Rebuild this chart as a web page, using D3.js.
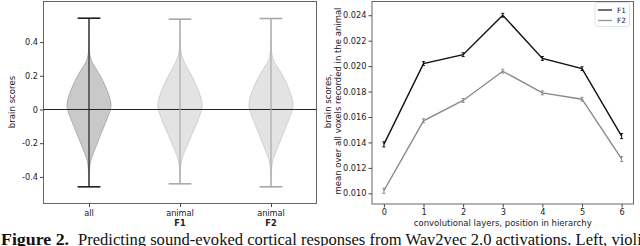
<!DOCTYPE html>
<html>
<head>
<meta charset="utf-8">
<script src="https://cdn.jsdelivr.net/npm/d3@7"></script>
<style>
  body { margin: 0; background: #fff; }
  svg { display: block; font-family: "DejaVu Sans", sans-serif; }
</style>
</head>
<body>
<div id="chart"></div>
<script>
// ---- data ----
var violinNames = ["all", "animal", "animal"];
var violinSub = ["", "F1", "F2"];
var violinMax = [0.542, 0.536, 0.540];
var violinMin = [-0.459, -0.441, -0.459];
// density profiles (value, relative width)
var allProfileY = [0.542, 0.36, 0.33, 0.29, 0.26, 0.21, 0.13, 0.04, 0.0, -0.05, -0.14, -0.24, -0.30, -0.35, -0.459];
var allProfileW = [0, 0.01, 0.03, 0.09, 0.22, 0.47, 0.76, 1.0, 0.95, 0.82, 0.54, 0.25, 0.07, 0.02, 0];
var f1ProfileY = [0.536, 0.38, 0.34, 0.30, 0.26, 0.20, 0.12, 0.04, 0.0, -0.06, -0.14, -0.23, -0.29, -0.34, -0.441];
var f1ProfileW = [0, 0.01, 0.04, 0.12, 0.27, 0.52, 0.80, 1.0, 0.96, 0.82, 0.55, 0.27, 0.08, 0.02, 0];
var f2ProfileY = [0.540, 0.37, 0.33, 0.29, 0.26, 0.21, 0.13, 0.04, 0.0, -0.05, -0.14, -0.24, -0.30, -0.35, -0.459];
var f2ProfileW = [0, 0.01, 0.03, 0.10, 0.24, 0.49, 0.78, 1.0, 0.95, 0.82, 0.54, 0.26, 0.07, 0.02, 0];
var violinTicks = [-0.4, -0.2, 0, 0.2, 0.4];

var layers = [0, 1, 2, 3, 4, 5, 6];
var f1Scores = [0.01385, 0.0202, 0.0209, 0.0240, 0.0206, 0.0198, 0.0145];
var f2Scores = [0.0102, 0.0157, 0.0173, 0.0196, 0.0179, 0.0174, 0.0127];
var f1Err = [0.0002, 0.00015, 0.00015, 0.00015, 0.00015, 0.00015, 0.0002];
var f2Err = [0.0002, 0.00015, 0.00015, 0.00015, 0.00015, 0.00015, 0.0002];
var lineTicks = [0.010, 0.012, 0.014, 0.016, 0.018, 0.020, 0.022, 0.024];

// ---- svg ----
var svg = d3.select("#chart").append("svg")
    .attr("width", 640)
    .attr("height", 246);

var tickFont = 8.2;

// ================= left: violins =================
var L = {left: 43.5, right: 316.5, top: 1.5, bottom: 203.5};
var vx = d3.scaleLinear().domain([0.5, 3.5]).range([L.left, L.right]);
var vy = d3.scaleLinear().domain([-0.558, 0.641]).range([L.bottom, L.top]);

var profiles = [
    {y: allProfileY, w: allProfileW, fill: "#c9c9c9", edge: "#9a9a9a", line: "#222"},
    {y: f1ProfileY, w: f1ProfileW, fill: "#e3e3e3", edge: "#c4c4c4", line: "#a8a8a8"},
    {y: f2ProfileY, w: f2ProfileW, fill: "#e3e3e3", edge: "#c4c4c4", line: "#a8a8a8"}
];

var halfW = 0.25; // violin half width in x units

profiles.forEach(function(p, i) {
    var pos = i + 1;
    var pts = p.y.map(function(v, k) { return {v: v, w: p.w[k]}; });
    var area = d3.area()
        .y(function(d) { return vy(d.v); })
        .x0(function(d) { return vx(pos - d.w * halfW); })
        .x1(function(d) { return vx(pos + d.w * halfW); })
        .curve(d3.curveBasis);
    svg.append("path")
        .attr("d", area(pts))
        .attr("fill", p.fill)
        .attr("stroke", p.edge)
        .attr("stroke-width", 0.7);
});

// zero line
svg.append("line")
    .attr("x1", L.left).attr("x2", L.right)
    .attr("y1", vy(0)).attr("y2", vy(0))
    .attr("stroke", "#222").attr("stroke-width", 1);

// center bars and caps
profiles.forEach(function(p, i) {
    var pos = i + 1;
    var g = svg.append("g").attr("stroke", p.line).attr("stroke-width", 1.2);
    g.append("line")
        .attr("x1", vx(pos)).attr("x2", vx(pos))
        .attr("y1", vy(violinMax[i])).attr("y2", vy(violinMin[i]));
    [violinMax[i], violinMin[i]].forEach(function(v) {
        g.append("line")
            .attr("x1", vx(pos - halfW / 2)).attr("x2", vx(pos + halfW / 2))
            .attr("y1", vy(v)).attr("y2", vy(v))
            .attr("stroke-width", 1.6);
    });
});

// frame
svg.append("rect")
    .attr("x", L.left).attr("y", L.top)
    .attr("width", L.right - L.left).attr("height", L.bottom - L.top)
    .attr("fill", "none").attr("stroke", "#555").attr("stroke-width", 0.9);

// axes
var vyAxis = svg.append("g")
    .attr("transform", "translate(" + L.left + ",0)")
    .call(d3.axisLeft(vy).tickValues(violinTicks).tickSize(3.5).tickPadding(2)
        .tickFormat(function(d) { return d === 0 ? "0" : d3.format(".1f")(d).replace("−", "-"); }));
vyAxis.select(".domain").remove();
vyAxis.selectAll("line").attr("stroke", "#444");
vyAxis.selectAll("text").attr("font-size", tickFont).attr("fill", "#222")
    .attr("font-family", "DejaVu Sans");

var vxAxis = svg.append("g")
    .attr("transform", "translate(0," + L.bottom + ")")
    .call(d3.axisBottom(vx).tickValues([1, 2, 3]).tickSize(3.5).tickFormat(""));
vxAxis.select(".domain").remove();
vxAxis.selectAll("line").attr("stroke", "#444");

violinNames.forEach(function(n, i) {
    svg.append("text")
        .attr("x", vx(i + 1)).attr("y", 216)
        .attr("text-anchor", "middle")
        .attr("font-size", tickFont).attr("fill", "#222")
        .text(n);
    if (violinSub[i]) {
        svg.append("text")
            .attr("x", vx(i + 1)).attr("y", 225.5)
            .attr("text-anchor", "middle")
            .attr("font-size", tickFont).attr("font-weight", "bold").attr("fill", "#222")
            .text(violinSub[i]);
    }
});

svg.append("text")
    .attr("transform", "translate(15,102) rotate(-90)")
    .attr("text-anchor", "middle")
    .attr("font-size", 8.6).attr("fill", "#222")
    .text("brain scores");

// ================= right: lines =================
var R = {left: 372, right: 633.5, top: 1.5, bottom: 204};
var lx = d3.scaleLinear().domain([-0.3, 6.3]).range([R.left, R.right]);
var ly = d3.scaleLinear().domain([0.00916, 0.02508]).range([R.bottom, R.top]);

var series = [
    {name: "F1", vals: f1Scores, err: f1Err, color: "#111"},
    {name: "F2", vals: f2Scores, err: f2Err, color: "#8a8a8a"}
];

var line = d3.line()
    .x(function(d) { return lx(d.x); })
    .y(function(d) { return ly(d.y); });

series.forEach(function(s) {
    var pts = layers.map(function(x, k) { return {x: x, y: s.vals[k], e: s.err[k]}; });
    svg.append("path")
        .attr("d", line(pts))
        .attr("fill", "none")
        .attr("stroke", s.color)
        .attr("stroke-width", 1.4);
    var eg = svg.append("g").attr("stroke", s.color).attr("stroke-width", 1);
    pts.forEach(function(d) {
        eg.append("line")
            .attr("x1", lx(d.x)).attr("x2", lx(d.x))
            .attr("y1", ly(d.y - d.e)).attr("y2", ly(d.y + d.e));
        [d.y - d.e, d.y + d.e].forEach(function(v) {
            eg.append("line")
                .attr("x1", lx(d.x) - 1.5).attr("x2", lx(d.x) + 1.5)
                .attr("y1", ly(v)).attr("y2", ly(v));
        });
    });
});

svg.append("rect")
    .attr("x", R.left).attr("y", R.top)
    .attr("width", R.right - R.left).attr("height", R.bottom - R.top)
    .attr("fill", "none").attr("stroke", "#555").attr("stroke-width", 0.9);

var lyAxis = svg.append("g")
    .attr("transform", "translate(" + R.left + ",0)")
    .call(d3.axisLeft(ly).tickValues(lineTicks).tickSize(3.5).tickPadding(2)
        .tickFormat(d3.format(".3f")));
lyAxis.select(".domain").remove();
lyAxis.selectAll("line").attr("stroke", "#444");
lyAxis.selectAll("text").attr("font-size", tickFont).attr("fill", "#222")
    .attr("font-family", "DejaVu Sans");

var lxAxis = svg.append("g")
    .attr("transform", "translate(0," + R.bottom + ")")
    .call(d3.axisBottom(lx).tickValues(layers).tickSize(3.5).tickPadding(2)
        .tickFormat(d3.format("d")));
lxAxis.select(".domain").remove();
lxAxis.selectAll("line").attr("stroke", "#444");
lxAxis.selectAll("text").attr("font-size", tickFont).attr("fill", "#222")
    .attr("font-family", "DejaVu Sans");

svg.append("text")
    .attr("x", (R.left + R.right) / 2).attr("y", 225.5)
    .attr("text-anchor", "middle")
    .attr("font-size", 8.5).attr("fill", "#222")
    .text("convolutional layers, position in hierarchy");

var yl = svg.append("text")
    .attr("transform", "translate(331,101) rotate(-90)")
    .attr("text-anchor", "middle")
    .attr("font-size", 8.5).attr("fill", "#222");
yl.append("tspan").attr("x", 0).attr("dy", 0).text("brain scores,");
yl.append("tspan").attr("x", 0).attr("dy", 10).text("mean over all voxels recorded in the animal");

// legend
var leg = svg.append("g").attr("transform", "translate(595,2.5)");
leg.append("rect")
    .attr("width", 34.5).attr("height", 24)
    .attr("rx", 2)
    .attr("fill", "#fff").attr("stroke", "#d8d8d8").attr("stroke-width", 0.8);
series.forEach(function(s, i) {
    var yy = 7.5 + i * 10.5;
    leg.append("line")
        .attr("x1", 3).attr("x2", 17)
        .attr("y1", yy).attr("y2", yy)
        .attr("stroke", s.color === "#111" ? "#333" : "#999").attr("stroke-width", 1.4);
    leg.append("text")
        .attr("x", 22).attr("y", yy + 2.7)
        .attr("font-size", 7.3).attr("fill", "#222")
        .text(s.name);
});

// ================= caption =================
var cap = svg.append("g").attr("font-family", "Liberation Serif, DejaVu Serif, serif")
    .attr("fill", "#111");
cap.append("text")
    .attr("x", 1).attr("y", 244.5)
    .attr("font-size", 16).attr("font-weight", "bold")
    .attr("textLength", 68).attr("lengthAdjust", "spacingAndGlyphs")
    .text("Figure 2.");
cap.append("text")
    .attr("x", 78).attr("y", 244.5)
    .attr("font-size", 16)
    .attr("textLength", 572).attr("lengthAdjust", "spacingAndGlyphs")
    .text("Predicting sound-evoked cortical responses from Wav2vec 2.0 activations. Left, violin");
</script>
</body>
</html>
